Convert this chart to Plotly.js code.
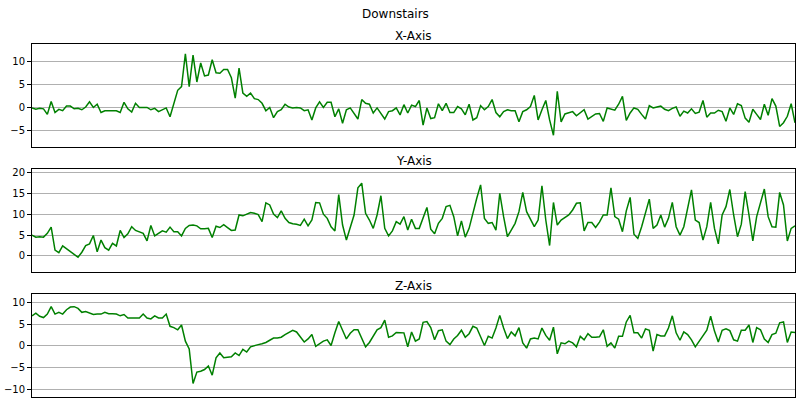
<!DOCTYPE html>
<html>
<head>
<meta charset="utf-8">
<script src="https://cdn.plot.ly/plotly-3.0.1.min.js"></script>
<style>
  html, body { margin: 0; padding: 0; background: #fff; }
  #plot { width: 800px; height: 408px; }
</style>
</head>
<body>
<div id="plot"></div>
<script>
// accelerometer readings, one window of 200 samples, "Downstairs" activity
const accX = [
  -0.1, -0.4, -0.2, -0.3, -1.5, 1.3, -1.1, -0.4, -0.7, 0.3,
  0.3, -0.3, -0.2, -0.5, 0.1, 1.2, 0.0, 0.7, -1.1, -0.7,
  -0.7, -0.7, -0.7, -1.1, 1.1, -0.3, -1.0, 0.9, 0.0, 0.0,
  0.0, -0.5, -0.2, -0.9, -0.5, -0.1, -2.0, 0.9, 3.7, 4.5,
  11.6, 4.5, 11.3, 5.5, 9.6, 6.8, 7.0, 10.3, 7.5, 7.4,
  8.2, 8.2, 6.4, 2.0, 8.5, 3.1, 2.4, 3.1, 1.9, 1.7,
  0.9, -0.7, 0.0, -2.2, -0.9, -0.5, 0.7, 0.1, -0.1, 0.0,
  -0.1, -0.7, -0.5, -2.7, -0.1, 1.2, 0.0, 1.1, 1.1, -2.0,
  -0.3, -3.4, -0.5, -0.1, -1.2, -2.5, 1.7, 0.9, 0.7, -1.2,
  -0.1, -1.2, -2.5, -0.9, -0.7, -0.1, -1.6, 0.6, -1.2, 0.5,
  0.2, 1.5, -3.8, -0.1, -2.4, -2.2, 0.8, -0.7, 0.9, -1.1,
  -1.1, 0.2, -0.3, -1.6, 0.7, -2.7, -2.2, 0.4, -0.5, 0.2,
  1.7, -1.1, -2.0, -0.9, -0.5, -0.7, -0.7, -3.1, -0.9, -0.5,
  0.2, 2.6, -2.7, -0.5, 1.5, -2.7, -6.0, 3.5, -3.1, -1.4,
  -1.2, -0.9, -1.8, -1.2, -0.5, -2.5, -2.0, -1.4, -1.3, -3.0,
  -0.1, -0.4, -0.6, 0.7, 2.4, -2.8, -1.2, -0.1, -0.4, -1.5,
  -2.5, 0.4, -0.1, 0.1, 0.3, -0.4, -0.7, -0.2, 0.1, -1.9,
  -0.8, -1.2, -0.3, -1.3, -1.0, 1.5, -2.1, -1.2, -1.2, -0.6,
  -0.9, -3.0, -0.1, -1.5, 0.8, 0.4, -2.3, -3.2, -0.4, -1.5,
  -2.6, 0.7, -1.7, 1.9, 0.3, -4.1, -3.3, -1.9, 0.8, -3.3
];

const accY = [
  5.0, 4.5, 4.6, 4.5, 5.4, 6.9, 1.4, 0.8, 2.4, 1.7,
  0.9, 0.2, -0.3, 0.9, 2.5, 2.9, 4.9, 1.0, 3.8, 2.0,
  1.4, 3.0, 2.4, 6.1, 4.4, 5.3, 7.0, 6.1, 5.7, 5.4,
  3.6, 7.3, 4.8, 5.4, 6.0, 5.7, 6.9, 5.8, 5.8, 4.8,
  6.6, 7.3, 7.4, 7.2, 6.5, 6.5, 6.6, 4.4, 7.1, 6.8,
  7.5, 6.8, 6.1, 6.2, 9.8, 9.6, 10.0, 10.4, 10.2, 9.9,
  8.2, 12.7, 12.2, 10.0, 9.2, 10.8, 9.0, 8.0, 7.7, 7.6,
  7.3, 8.8, 7.2, 8.6, 12.8, 12.7, 10.0, 9.0, 7.0, 6.0,
  14.7, 7.4, 3.8, 6.9, 9.8, 16.3, 17.4, 10.2, 8.6, 6.6,
  9.8, 14.4, 6.6, 4.8, 6.0, 8.2, 7.6, 9.4, 6.2, 8.8,
  6.6, 6.6, 8.9, 11.6, 6.4, 5.3, 7.8, 9.0, 11.8, 12.1,
  9.4, 4.8, 8.4, 4.5, 6.6, 10.6, 13.8, 17.0, 9.0, 7.8,
  8.0, 6.2, 15.0, 9.4, 4.6, 6.2, 7.8, 10.6, 15.2, 10.6,
  8.6, 7.0, 8.6, 16.8, 8.6, 2.5, 12.8, 7.4, 8.6, 9.2,
  9.8, 11.0, 12.6, 12.7, 6.0, 8.0, 8.0, 6.8, 8.1, 9.8,
  9.8, 16.3, 9.4, 8.8, 5.8, 10.8, 14.0, 5.2, 4.2, 7.0,
  10.6, 13.6, 6.6, 7.4, 9.8, 6.9, 9.0, 12.8, 7.0, 5.0,
  7.0, 11.4, 15.8, 8.6, 8.0, 3.8, 7.0, 12.8, 6.6, 2.9,
  9.8, 11.8, 15.9, 9.8, 4.6, 7.6, 15.4, 9.8, 3.6, 9.4,
  13.0, 16.0, 9.4, 7.0, 6.9, 15.2, 12.2, 3.6, 6.6, 7.2
];

const accZ = [
  6.9, 7.5, 6.8, 6.5, 7.3, 9.0, 7.3, 7.7, 7.3, 8.3,
  8.9, 9.0, 8.6, 7.7, 7.9, 7.6, 7.2, 7.3, 7.3, 7.7,
  7.4, 7.4, 7.3, 6.9, 7.2, 6.4, 6.4, 6.4, 6.4, 7.3,
  6.4, 6.2, 6.9, 6.4, 6.4, 7.3, 4.5, 4.2, 3.7, 4.8,
  1.1, -0.7, -8.6, -6.0, -5.8, -5.4, -4.6, -6.7, -2.7, -1.6,
  -2.7, -2.6, -2.5, -1.6, -2.2, -0.8, -1.4, -0.2, 0.1, 0.3,
  0.5, 0.8, 1.3, 1.8, 1.8, 2.0, 2.6, 3.1, 3.6, 3.2,
  2.0, 0.9, 1.6, 2.6, -0.1, 0.5, 1.1, 1.4, 0.1, 3.0,
  5.6, 3.6, 1.6, 2.9, 3.7, 3.7, 1.7, -0.2, 0.8, 2.2,
  3.7, 4.2, 5.9, 2.0, 2.3, 3.1, 3.1, 3.0, -0.2, 3.2,
  1.1, 1.6, 5.4, 5.6, 4.2, 1.4, 3.5, 3.7, 1.1, 0.3,
  1.6, 2.4, 3.6, 2.0, 2.8, 4.5, 4.1, 2.2, 0.1, 2.2,
  1.8, 4.1, 7.0, 4.1, 1.7, 3.2, 2.3, 4.2, 0.7, -0.5,
  1.6, 1.8, 1.6, 4.1, 2.4, 1.3, 4.3, -1.8, 0.7, 0.5,
  1.1, 0.7, -0.2, 2.2, 1.4, 2.8, 2.0, 2.0, 2.1, 3.7,
  -0.1, 0.7, -0.5, 2.2, 2.2, 5.5, 7.0, 3.0, 3.0, 1.8,
  3.9, 3.6, -1.2, 2.6, 2.3, 2.3, 4.1, 6.9, 3.0, 1.3,
  3.2, 2.6, 1.4, -0.2, 1.1, 2.2, 3.6, 6.8, 3.4, 0.9,
  3.6, 3.9, 3.5, 1.4, 1.1, 3.6, 3.6, 4.8, 0.8, 4.2,
  3.7, 1.6, 0.8, 2.6, 2.9, 5.3, 5.5, 0.8, 3.2, 3.1
];

const activity = 'Downstairs';
const panelTitles = ['X-Axis', 'Y-Axis', 'Z-Axis'];
const series = [accX, accY, accZ];
const yRanges = [[-8.6, 13.7], [-3.9, 20.8], [-11.7, 11.9]];
const domains = [[0.7074, 1.0], [0.3533, 0.6459], [0.0, 0.2918]];

const font = 'DejaVu Sans, sans-serif';
const traces = [];
const layout = {
  width: 800,
  height: 408,
  margin: {l: 32, r: 5, t: 44, b: 11},
  paper_bgcolor: 'white',
  plot_bgcolor: 'white',
  showlegend: false,
  font: {family: font, size: 10, color: 'black'},
  annotations: [{
    text: activity,
    xref: 'paper', yref: 'paper',
    x: 0.4764, y: 1, xanchor: 'center', yanchor: 'bottom',
    yshift: 21, showarrow: false,
    font: {family: font, size: 12, color: 'black'}
  }]
};

series.forEach((vals, k) => {
  const n = k + 1;
  const xa = n === 1 ? 'x' : 'x' + n;
  const ya = n === 1 ? 'y' : 'y' + n;
  traces.push({
    y: vals,
    xaxis: xa,
    yaxis: ya,
    mode: 'lines',
    line: {color: '#008000', width: 1.5},
    hoverinfo: 'skip'
  });
  layout['xaxis' + (n === 1 ? '' : n)] = {
    domain: [0, 1],
    anchor: ya,
    range: [0, vals.length - 1],
    showgrid: false,
    zeroline: false,
    showticklabels: false,
    ticks: '',
    showline: true,
    mirror: true,
    linecolor: 'black',
    linewidth: 1
  };
  layout['yaxis' + (n === 1 ? '' : n)] = {
    domain: domains[k],
    anchor: xa,
    range: yRanges[k],
    dtick: 5,
    showgrid: true,
    gridcolor: '#b0b0b0',
    gridwidth: 1,
    zeroline: false,
    ticks: 'outside',
    ticklen: 4,
    tickcolor: 'black',
    showline: true,
    mirror: true,
    linecolor: 'black',
    linewidth: 1,
    tickfont: {family: font, size: 10, color: 'black'}
  };
  layout.annotations.push({
    text: panelTitles[k],
    xref: 'paper', yref: 'paper',
    x: 0.5, y: domains[k][1], xanchor: 'center', yanchor: 'bottom',
    yshift: -1, showarrow: false,
    font: {family: font, size: 12, color: 'black'}
  });
});

Plotly.newPlot('plot', traces, layout, {displayModeBar: false, staticPlot: true});
</script>
</body>
</html>
